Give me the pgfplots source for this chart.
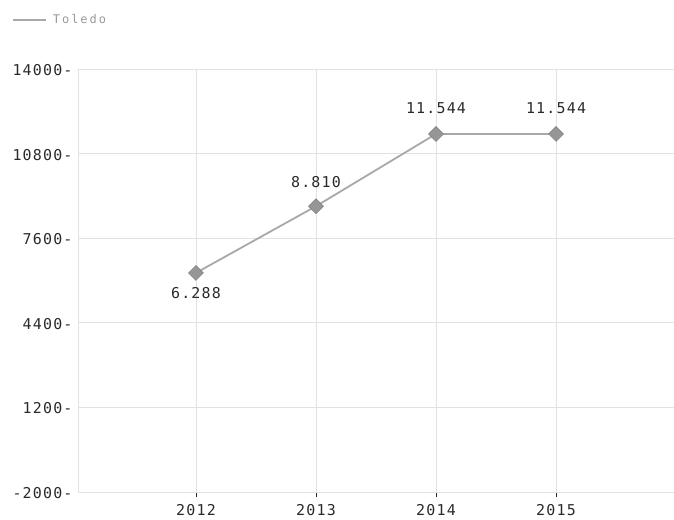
\documentclass[border=0pt]{standalone}
\usepackage{pgfplots}
\pgfplotsset{compat=1.18}
\usepackage{fontspec}
\setmainfont{DejaVu Sans Mono}
\newfontfamily\tickfont[LetterSpace=8]{DejaVu Sans Mono}
\newfontfamily\legfont[LetterSpace=17]{DejaVu Sans Mono}
\definecolor{txt}{HTML}{2A2A2A}
\definecolor{lin}{HTML}{A8A8A8}
\definecolor{mk}{HTML}{969696}
\definecolor{grd}{HTML}{E2E2E2}
\definecolor{legtxt}{HTML}{9A9A9A}
\begin{document}
\begin{tikzpicture}
\useasboundingbox (0,0) rectangle (674bp,520bp);
\begin{axis}[
  at={(78bp,28bp)}, anchor=south west,
  scale only axis, width=596bp, height=423bp,
  xmin=-0.983, xmax=3.983,
  ymin=-2000, ymax=14000,
  scaled y ticks=false,
  xtick={0,1,2,3}, xticklabels={2012,2013,2014,2015},
  ytick={-2000,1200,4400,7600,10800,14000},
  yticklabel={\pgfmathprintnumber[fixed,1000 sep={}]{\tick}-},
  /pgf/number format/assume math mode=true,
  axis x line=bottom, axis y line=left,
  axis line style={grd, -},
  x tick style={txt, line width=0.6pt},
  y tick style={draw=none},
  major tick length=5bp,
  tick align=outside,
  xtick pos=bottom,
  grid=major,
  major grid style={grd, line width=0.6pt},
  tick label style={font=\tickfont\fontsize{15}{17}\selectfont, text=txt},
  xticklabel style={yshift=-4bp},
  yticklabel style={xshift=3bp, yshift=-1bp},
  legend style={at={(-0.1107,1.116)}, anchor=west, draw=none, fill=none,
    font=\legfont\fontsize{12}{14}\selectfont\color{legtxt}, inner sep=0pt,
    nodes={inner sep=0pt}},
  legend cell align=left,
  legend image code/.code={\draw[lin, line width=1.6pt] (0bp,0bp) -- (33bp,0bp);},
  clip=false,
]
\addplot[lin, line width=1.8pt, mark=square*, mark size=5.3bp,
  mark options={fill=mk, draw=mk!85!black, line width=0.5pt, rotate=45}]
  coordinates {(0,6288) (1,8810) (2,11544) (3,11544)};
\addlegendentry{\hspace{6bp}Toledo}
\node[font=\tickfont\fontsize{15}{17}\selectfont, text=txt, yshift=-20bp] at (axis cs:0,6288) {6.288};
\node[font=\tickfont\fontsize{15}{17}\selectfont, text=txt, yshift=24bp] at (axis cs:1,8810) {8.810};
\node[font=\tickfont\fontsize{15}{17}\selectfont, text=txt, yshift=26bp] at (axis cs:2,11544) {11.544};
\node[font=\tickfont\fontsize{15}{17}\selectfont, text=txt, yshift=26bp] at (axis cs:3,11544) {11.544};
\end{axis}
\end{tikzpicture}
\end{document}
